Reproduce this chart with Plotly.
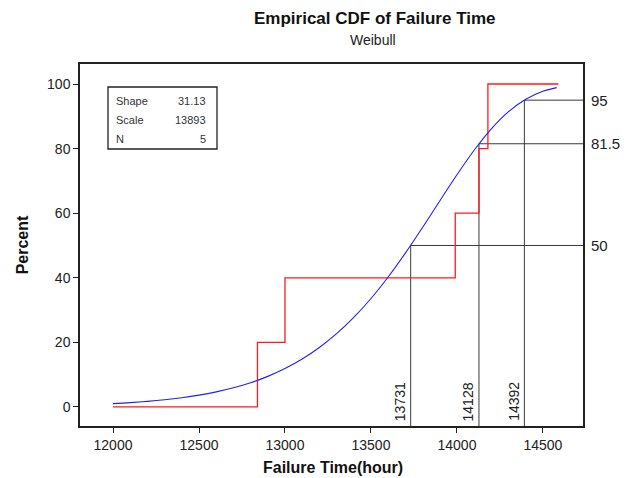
import plotly.graph_objects as go

# Empirical CDF steps (failure times, hours) and cumulative percent
step_time = [12000, 12840, 13000, 13990, 14128, 14180, 14590]
step_pct = [0, 20, 40, 60, 80, 100, 100]

# Fitted Weibull CDF
fit_time = [12000, 12100, 12200, 12300, 12400, 12500, 12600, 12700, 12800, 12900,
            13000, 13100, 13200, 13300, 13400, 13500, 13600, 13700, 13800, 13900,
            14000, 14100, 14200, 14300, 14400, 14500, 14580]
fit_pct = [1.04, 1.35, 1.74, 2.23, 2.86, 3.66, 4.67, 5.93, 7.50, 9.47,
           11.88, 14.83, 18.40, 22.68, 27.72, 33.58, 40.24, 47.64, 55.58, 63.79,
           71.91, 79.50, 86.12, 91.43, 95.27, 97.73, 98.88]

# Percentile reference lines
ref_pct = [50, 81.5, 95]
ref_time = [13731, 14128, 14392]
ref_pct_labels = ["50", "81.5", "95"]
ref_time_labels = ["13731", "14128", "14392"]

# Axis ticks
x_ticks = [12000, 12500, 13000, 13500, 14000, 14500]
x_tick_labels = ["12000", "12500", "13000", "13500", "14000", "14500"]
y_ticks = [0, 20, 40, 60, 80, 100]

# Summary table
table_names = ["Shape", "Scale", "N"]
table_values = ["31.13", "13893", "5"]

x_range = [11808, 14733]
y_range = [-5.9, 106.2]
ref_color = "#3a3a3a"

fig = go.Figure()
for t, p in zip(ref_time, ref_pct):
    fig.add_trace(go.Scatter(x=[t, t, x_range[1]], y=[y_range[0], p, p], mode="lines",
                             line=dict(color=ref_color, width=1), hoverinfo="skip",
                             showlegend=False, cliponaxis=True))
fig.add_trace(go.Scatter(x=step_time, y=step_pct, mode="lines", line_shape="hv",
                         line=dict(color="#ff1a1a", width=1.3), showlegend=False))
fig.add_trace(go.Scatter(x=fit_time, y=fit_pct, mode="lines", line_shape="spline",
                         line=dict(color="#2222ee", width=1.1), showlegend=False))

fnt = "Liberation Sans"
ann = []
for t, lab in zip(ref_time, ref_time_labels):
    ann.append(dict(x=t, y=y_range[0], xref="x", yref="y", text=lab, textangle=-90,
                    showarrow=False, xanchor="right", yanchor="bottom", xshift=-1, yshift=3,
                    font=dict(family=fnt, size=14, color="#222")))
for p, lab in zip(ref_pct, ref_pct_labels):
    ann.append(dict(x=1.0, y=p, xref="paper", yref="y", text=lab, showarrow=False,
                    xanchor="left", yanchor="middle", xshift=6,
                    font=dict(family=fnt, size=15, color="#222")))
ann.append(dict(x=(375 - 80) / 503, y=1 + (64 - 18) / 362, xref="paper", yref="paper",
                text="<b>Empirical CDF of Failure Time</b>", showarrow=False,
                xanchor="center", yanchor="middle", font=dict(family=fnt, size=17, color="#111")))
ann.append(dict(x=(373 - 80) / 503, y=1 + (64 - 40) / 362, xref="paper", yref="paper",
                text="Weibull", showarrow=False,
                xanchor="center", yanchor="middle", font=dict(family=fnt, size=14, color="#222")))
ann.append(dict(x=(333 - 80) / 503, y=-(467 - 426) / 362, xref="paper", yref="paper",
                text="<b>Failure Time(hour)</b>", showarrow=False,
                xanchor="center", yanchor="middle", font=dict(family=fnt, size=16, color="#111")))
# summary table
row_y = [101, 120, 139]
for name, val, ry in zip(table_names, table_values, row_y):
    yy = 1 - (ry - 64) / 362
    ann.append(dict(x=(114 - 80) / 503, y=yy, xref="paper", yref="paper", text=name,
                    showarrow=False, xanchor="left", yanchor="middle",
                    font=dict(family=fnt, size=11, color="#333")))
    ann.append(dict(x=(208 - 80) / 503, y=yy, xref="paper", yref="paper", text=val,
                    showarrow=False, xanchor="right", yanchor="middle",
                    font=dict(family=fnt, size=11, color="#333")))

fig.update_layout(
    width=639, height=478,
    margin=dict(l=80, r=56, t=64, b=52),
    paper_bgcolor="white", plot_bgcolor="white",
    annotations=ann,
    shapes=[dict(type="rect", xref="paper", yref="paper",
                 x0=(108 - 80) / 503, x1=(217 - 80) / 503,
                 y0=1 - (149 - 64) / 362, y1=1 - (87 - 64) / 362,
                 line=dict(color="#222", width=1.3), fillcolor="white", layer="above")],
    xaxis=dict(range=x_range, showgrid=False, zeroline=False, showline=True, mirror=True,
               linecolor="#222", linewidth=1.5, ticks="outside", ticklen=5, tickcolor="#222",
               tickvals=x_ticks, ticktext=x_tick_labels, automargin=False,
               tickfont=dict(family=fnt, size=14, color="#222")),
    yaxis=dict(range=y_range, showgrid=False, zeroline=False, showline=True, mirror=True,
               linecolor="#222", linewidth=1.5, ticks="outside", ticklen=5, tickcolor="#222",
               tickvals=y_ticks,
               tickfont=dict(family=fnt, size=14, color="#222"),
               title=dict(text="<b>Percent</b>", standoff=14,
                          font=dict(family=fnt, size=16, color="#111"))),
)
fig.write_html("out.html")
